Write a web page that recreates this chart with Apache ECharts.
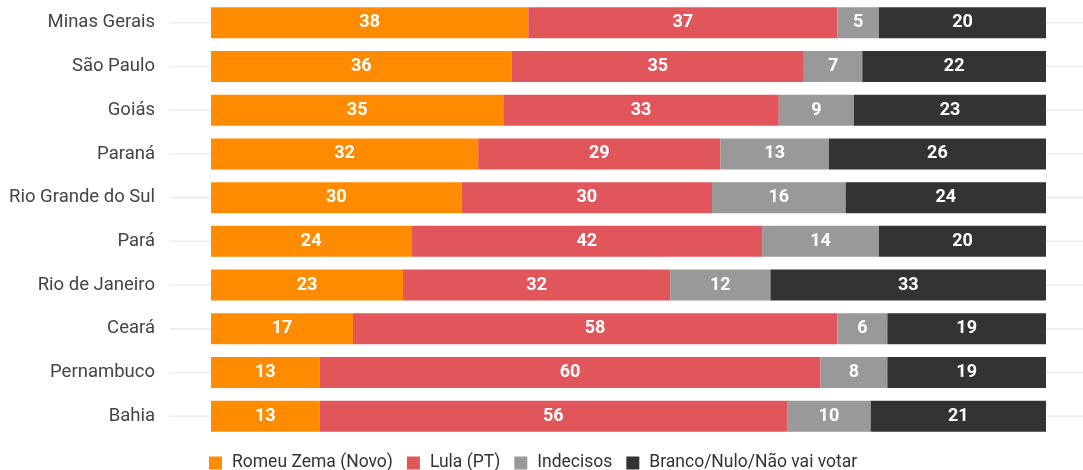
<!DOCTYPE html>
<html>
<head>
<meta charset="utf-8">
<script src="https://cdn.jsdelivr.net/npm/echarts@6/dist/echarts.min.js"></script>
<style>
  html, body { margin: 0; padding: 0; background: #fff; }
  #chart { width: 1083px; height: 470px; }
</style>
</head>
<body>
<div id="chart"></div>
<script>
const states = ["Minas Gerais", "São Paulo", "Goiás", "Paraná", "Rio Grande do Sul", "Pará", "Rio de Janeiro", "Ceará", "Pernambuco", "Bahia"];
const zema = [38, 36, 35, 32, 30, 24, 23, 17, 13, 13];
const lula = [37, 35, 33, 29, 30, 42, 32, 58, 60, 56];
const indecisos = [5, 7, 9, 13, 16, 14, 12, 6, 8, 10];
const branco = [20, 22, 23, 26, 24, 20, 33, 19, 19, 21];

const seriesNames = ["Romeu Zema (Novo)", "Lula (PT)", "Indecisos", "Branco/Nulo/Não vai votar"];
const colors = ["#ff8c00", "#e0565b", "#999999", "#333333"];

var chart = echarts.init(document.getElementById("chart"));

const barLabel = {
  show: true,
  color: "#fff",
  fontFamily: "Roboto",
  fontWeight: "bold",
  fontSize: 18,
};

function barSeries(name, data, i) {
  return {
    name: name,
    type: "bar",
    stack: "total",
    barWidth: 31,
    data: data,
    itemStyle: { color: colors[i] },
    label: barLabel,
    z: 3,
  };
}

var option = {
  animation: false,
  textStyle: { fontFamily: "Roboto" },
  grid: { left: 211, right: 37, top: 1, height: 437 },
  legend: {
    left: 204,
    bottom: -7,
    itemWidth: 13,
    itemHeight: 13,
    itemGap: 14,
    icon: "rect",
    textStyle: { fontSize: 17.5, color: "#333", fontFamily: "Roboto", padding: [0, 0, 0, 5] },
    data: seriesNames,
  },
  xAxis: {
    type: "value",
    min: 0,
    max: 100,
    show: false,
  },
  yAxis: {
    type: "category",
    inverse: true,
    data: states,
    axisLine: { show: false },
    axisTick: { show: false },
    splitLine: { show: false },
    axisLabel: { margin: 56, fontSize: 18.5, color: "#444", fontFamily: "Roboto" },
  },
  series: [
    {
      // light guide lines through each row
      type: "custom",
      silent: true,
      clip: false,
      z: 1,
      data: states.map((s, i) => [0, i]),
      encode: { x: 0, y: 1 },
      renderItem: function (params, api) {
        var y = api.coord([0, api.value(1)])[1];
        var cs = params.coordSys;
        return {
          type: "line",
          shape: { x1: cs.x - 42, y1: y, x2: cs.x + cs.width + 40, y2: y },
          style: { stroke: "#ececec", lineWidth: 1.5 },
        };
      },
    },
    barSeries(seriesNames[0], zema, 0),
    barSeries(seriesNames[1], lula, 1),
    barSeries(seriesNames[2], indecisos, 2),
    barSeries(seriesNames[3], branco, 3),
  ],
};

option && chart.setOption(option);
</script>
</body>
</html>
